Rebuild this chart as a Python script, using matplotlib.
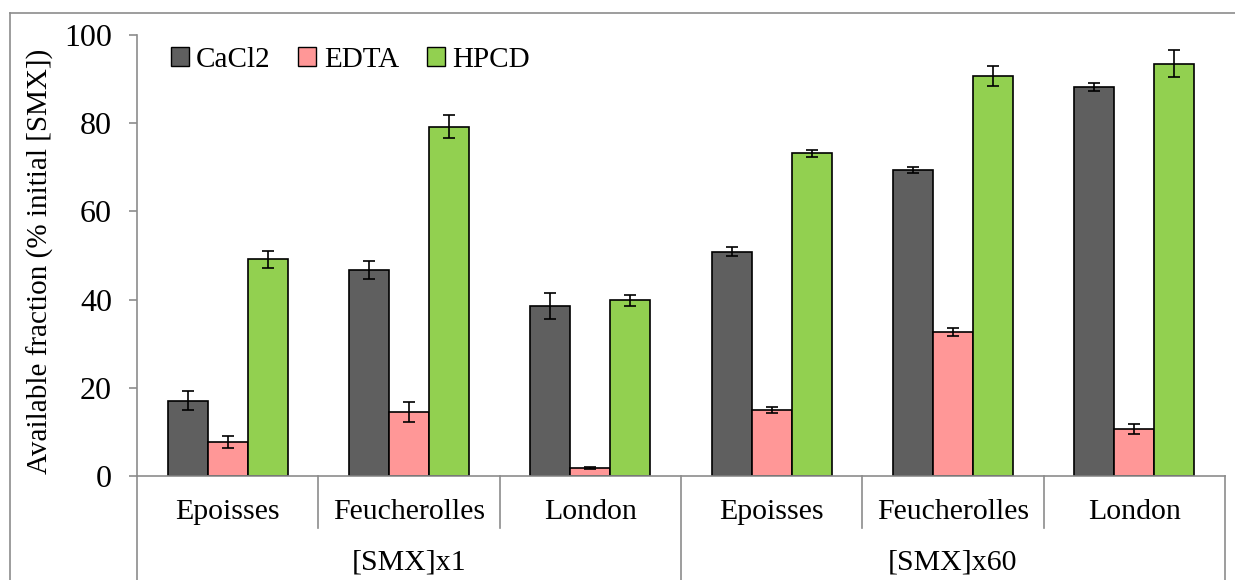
import numpy as np
import matplotlib.pyplot as plt
from matplotlib.patches import Patch
from matplotlib.lines import Line2D

plt.rcParams['font.family'] = ['Liberation Serif', 'DejaVu Serif']

# soils within each [SMX] level
sites = ['Epoisses', 'Feucherolles', 'London', 'Epoisses', 'Feucherolles', 'London']
levels = ['[SMX]x1', '[SMX]x60']
extractants = ['CaCl2', 'EDTA', 'HPCD']

cacl2 = [17.1, 46.7, 38.5, 50.9, 69.4, 88.1]
cacl2_err = [2.1, 2.1, 2.9, 1.1, 0.6, 0.9]
edta = [7.7, 14.5, 1.8, 15.0, 32.7, 10.6]
edta_err = [1.4, 2.2, 0.3, 0.75, 0.9, 1.15]
hpcd = [49.1, 79.2, 39.8, 73.2, 90.7, 93.5]
hpcd_err = [2.0, 2.6, 1.3, 0.8, 2.35, 3.0]

colors = ['#5f5f5f', '#ff9797', '#92d050']
grey = '#8c8c8c'

fig = plt.figure(figsize=(12.35, 5.8), dpi=100)
ax = fig.add_axes([0.1109, 0.1793, 0.8810, 0.7604])

x = np.arange(len(sites))
w = 0.221
series = [(cacl2, cacl2_err), (edta, edta_err), (hpcd, hpcd_err)]
for i, (vals, errs) in enumerate(series):
    ax.bar(x + (i - 1) * w, vals, w, yerr=errs, color=colors[i],
           edgecolor='black', linewidth=1.2, label=extractants[i],
           error_kw=dict(ecolor='black', elinewidth=1.2, capsize=4.5, capthick=1.2))

ax.set_xlim(-0.5, len(sites) - 0.5)
ax.set_ylim(0, 100)
ax.set_yticks([0, 20, 40, 60, 80, 100])
ax.tick_params(axis='y', labelsize=23, length=6, color=grey, width=1.2, pad=12)
ax.set_xticks([])
for s in ['top', 'right']:
    ax.spines[s].set_visible(False)
for s in ['left', 'bottom']:
    ax.spines[s].set_color(grey)
    ax.spines[s].set_linewidth(1.2)

fig.text(40 / 1235, 1 - 261 / 580, 'Available fraction (% initial [SMX])',
         rotation=90, ha='center', va='center', fontsize=21)

# two-level category axis
tr = ax.get_xaxis_transform()
for b in np.arange(-0.5, len(sites)):
    outer = (b + 0.5) % 3 == 0
    ax.add_line(Line2D([b, b], [0, -0.236 if outer else -0.117], transform=tr,
                       color=grey, lw=1.2, clip_on=False))
for xi, name in zip(x, sites):
    ax.text(xi, -0.082, name, transform=tr, ha='center', va='center', fontsize=21.5)
for j, lev in enumerate(levels):
    ax.text(3 * j + 1, -0.197, lev, transform=tr, ha='center', va='center', fontsize=21.5)

handles = [Patch(facecolor=c, edgecolor='black', linewidth=1.0) for c in colors]
ax.legend(handles, extractants, loc='center left', bbox_to_anchor=(0.031, 0.943),
          ncol=3, frameon=False, fontsize=21, handlelength=0.62, handleheight=0.62,
          handletextpad=0.25, columnspacing=0.95, borderaxespad=0, borderpad=0)

# chart area border
fig.add_artist(Line2D([10 / 1235, 10 / 1235], [0, 1 - 13 / 580], color=grey, lw=1.2))
fig.add_artist(Line2D([10 / 1235, 1], [1 - 13 / 580, 1 - 13 / 580], color=grey, lw=1.2))

fig.savefig('out.png', dpi=100)
